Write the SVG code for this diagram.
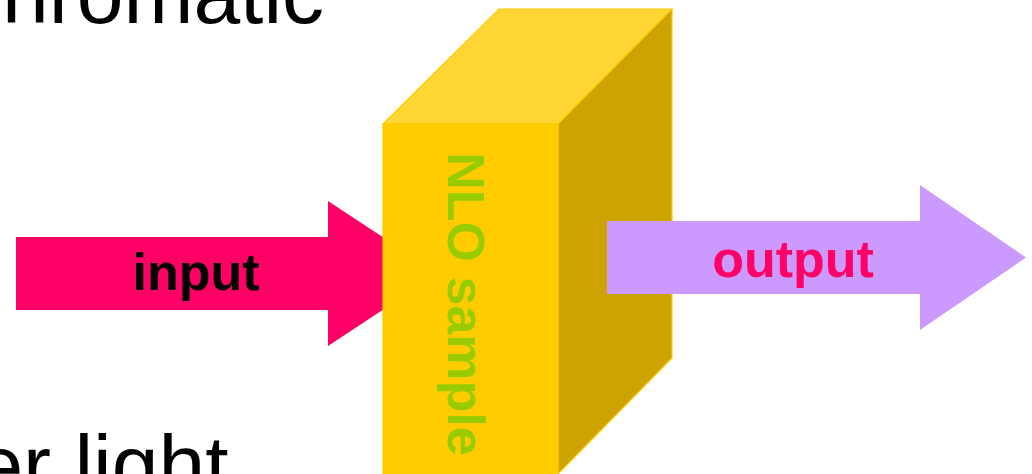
<svg xmlns="http://www.w3.org/2000/svg" width="1032" height="474" viewBox="0 0 1032 474">
  <style>
    .big { font-family: "Liberation Sans", Arial, sans-serif; font-size: 84px; fill: #000000; }
    .lbl { font-family: "Liberation Sans", Arial, sans-serif; font-size: 52px; font-weight: bold; }
    .edge { stroke: #FFCC00; stroke-width: 1.2; stroke-linejoin: miter; }
  </style>
  <rect width="1032" height="474" fill="#FFFFFF"/>
  <g id="caption-top">
    <text class="big" x="-40" y="23">chromatic</text>
  </g>
  <g id="caption-bottom">
    <text class="big" x="-23.6" y="494">er light</text>
  </g>
  <g id="connectors">
    <g id="input-arrow">
      <polygon points="16,237 328,237 328,201 438,273.5 328,346 328,310 16,310" fill="#FF0066"/>
      <text class="lbl" x="196" y="290" text-anchor="middle" fill="#000000">input</text>
    </g>
  </g>
  <g id="nlo-sample">
    <polygon class="edge" points="383,124 499,9 672,9 558,124" fill="#FFD633"/>
    <polygon class="edge" points="558,124 672,9 672,358 558,474" fill="#CCA300"/>
    <rect class="edge" x="383" y="124" width="175" height="352" fill="#FFCC00"/>
    <text class="lbl" transform="translate(448,304) rotate(90)" text-anchor="middle" fill="#99CC00">NLO sample</text>
  </g>
  <g id="connectors-out">
    <g id="output-arrow">
      <polygon points="607,221 920,221 920,185 1026,257.5 920,330 920,294 607,294" fill="#CC99FF"/>
      <text class="lbl" x="793" y="277" text-anchor="middle" fill="#FF0066">output</text>
    </g>
  </g>
</svg>
